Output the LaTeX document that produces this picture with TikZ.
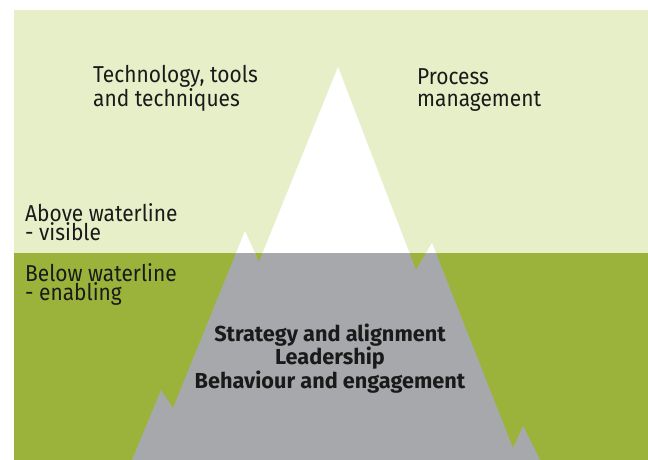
\documentclass[tikz,border=0pt]{standalone}
\usepackage{fontspec}
\setmainfont{Fira Sans}[FakeStretch=0.91]
\newfontfamily\corefont{Fira Sans}
\definecolor{skygreen}{HTML}{E7EFC9}
\definecolor{seagreen}{HTML}{9CB33B}
\definecolor{icegrey}{HTML}{A7A8AB}
\definecolor{inkblack}{HTML}{1A1A1A}
\tikzset{
	top label/.style={
		anchor=base west,
		inner sep=0pt,
		align=left,
		text=inkblack,
		font=\fontsize{23}{22.5}\selectfont
	},
	side label/.style={
		top label,
		font=\fontsize{23}{19}\selectfont
	},
	core label/.style={
		anchor=base,
		inner sep=0pt,
		align=center,
		text=inkblack,
		font=\corefont\bfseries\fontsize{21.7}{21.5}\selectfont
	}
}
% outline of the berg, top to bottom
\newcommand{\bergoutline}{(132,460) -- (161,390) -- (173,408) -- (245,231) -- (259,262) -- (338,67)
	-- (416,270) -- (432,243) -- (513,448) -- (523,426) -- (540,460) -- cycle}

\begin{document}
\begin{tikzpicture}[x=1pt,y=-1pt]
	\useasboundingbox (0,0) rectangle (648,460);
	% sky and sea
	\fill[skygreen] (14,10) rectangle (648,253);
	\fill[seagreen] (14,253) rectangle (648,460);
	\begin{scope}
		\clip (14,10) rectangle (648,253);
		\fill[white] \bergoutline;
	\end{scope}
	\begin{scope}
		\clip (14,253) rectangle (648,460);
		\fill[icegrey] \bergoutline;
	\end{scope}
	% base anchor sits on the last line
	\node[top label] (tech) at (93,106.7) {Technology, tools\\and techniques};
	\node[top label] (process) at (417,106.7) {Process\\management};
	\node[side label] (above) at (25,240.7) {Above waterline\\- visible};
	\node[side label] (below) at (25,300) {Below waterline\\- enabling};
	\node[core label] (core) at (330,388) {Strategy and alignment\\Leadership\\Behaviour and engagement};
\end{tikzpicture}
\end{document}
